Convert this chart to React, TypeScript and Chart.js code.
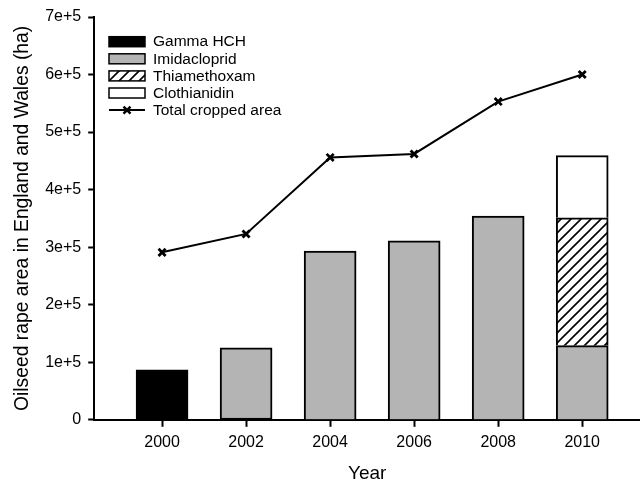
import React, { useEffect, useRef } from 'react';
import { Chart, registerables } from 'chart.js';

Chart.register(...registerables);

// ---- data ----
const years = [2000, 2002, 2004, 2006, 2008, 2010];
const xTickLabels = ['2000', '2002', '2004', '2006', '2008', '2010'];
const gammaHCH = [87000, 3000, null, null, null, null];
const imidacloprid = [null, 122000, 293000, 311000, 354000, 129000];
const thiamethoxam = [null, null, null, null, null, 222000];
const clothianidin = [null, null, null, null, null, 108000];
const totalCropped = [291000, 323000, 456000, 462000, 553000, 600000];
const yTickValues = [0, 100000, 200000, 300000, 400000, 500000, 600000, 700000];
const yTickLabels = ['0', '1e+5', '2e+5', '3e+5', '4e+5', '5e+5', '6e+5', '7e+5'];
const seriesNames = ['Gamma HCH', 'Imidacloprid', 'Thiamethoxam', 'Clothianidin', 'Total cropped area'];

const FONT = '"Liberation Sans", Arial, sans-serif';

function toPoints(values: (number | null)[]) {
  const pts: { x: number; y: number }[] = [];
  values.forEach((v, i) => {
    if (v !== null && v !== undefined) pts.push({ x: years[i], y: v });
  });
  return pts;
}

function makeHatch(): CanvasPattern | string {
  const s = 10;
  const c = document.createElement('canvas');
  c.width = s;
  c.height = s;
  const g = c.getContext('2d');
  if (!g) return '#ffffff';
  g.fillStyle = '#ffffff';
  g.fillRect(0, 0, s, s);
  g.strokeStyle = '#000000';
  g.lineWidth = 1.6;
  g.beginPath();
  g.moveTo(0, s);
  g.lineTo(s, 0);
  g.moveTo(-2, 2);
  g.lineTo(2, -2);
  g.moveTo(s - 2, s + 2);
  g.lineTo(s + 2, s - 2);
  g.stroke();
  const p = g.createPattern(c, 'repeat');
  return p || '#ffffff';
}

const legendPlugin = {
  id: 'insideLegend',
  afterDraw(chart: any) {
    const ctx = chart.ctx;
    const x0 = 109;
    const boxW = 36;
    const boxH = 10;
    const y0 = 41.7;
    const step = 17.1;
    ctx.save();
    ctx.font = `15.5px ${FONT}`;
    ctx.textBaseline = 'middle';
    ctx.textAlign = 'left';
    chart.data.datasets.forEach((ds: any, i: number) => {
      const cy = y0 + i * step;
      if (ds.type === 'line') {
        ctx.strokeStyle = '#000';
        ctx.lineWidth = 2;
        ctx.beginPath();
        ctx.moveTo(x0, cy);
        ctx.lineTo(x0 + boxW, cy);
        ctx.stroke();
        const cx = x0 + boxW / 2;
        const r = 3.5;
        ctx.lineWidth = 2.5;
        ctx.beginPath();
        ctx.moveTo(cx - r, cy - r);
        ctx.lineTo(cx + r, cy + r);
        ctx.moveTo(cx - r, cy + r);
        ctx.lineTo(cx + r, cy - r);
        ctx.stroke();
      } else {
        ctx.fillStyle = ds.backgroundColor;
        ctx.fillRect(x0, cy - boxH / 2, boxW, boxH);
        ctx.strokeStyle = '#000';
        ctx.lineWidth = 1.5;
        ctx.strokeRect(x0, cy - boxH / 2, boxW, boxH);
      }
      ctx.fillStyle = '#000';
      ctx.fillText(ds.label, x0 + boxW + 8, cy + 0.5);
    });
    ctx.restore();
  },
};

export default function App() {
  const ref = useRef<HTMLCanvasElement | null>(null);

  useEffect(() => {
    if (!ref.current) return;
    const hatch = makeHatch();
    const barCommon = {
      type: 'bar' as const,
      borderColor: '#000000',
      borderWidth: 2,
      borderSkipped: 'start',
      barThickness: 52,
      stack: 'bars',
    };
    const chart = new Chart(ref.current, {
      type: 'bar',
      data: {
        datasets: [
          { ...barCommon, label: seriesNames[0], data: toPoints(gammaHCH), backgroundColor: '#000000' },
          { ...barCommon, label: seriesNames[1], data: toPoints(imidacloprid), backgroundColor: '#b4b4b4' },
          { ...barCommon, label: seriesNames[2], data: toPoints(thiamethoxam), backgroundColor: hatch as any },
          { ...barCommon, label: seriesNames[3], data: toPoints(clothianidin), backgroundColor: '#ffffff' },
          {
            type: 'line' as const,
            label: seriesNames[4],
            data: toPoints(totalCropped),
            borderColor: '#000000',
            backgroundColor: '#000000',
            borderWidth: 2,
            pointStyle: 'crossRot',
            pointRadius: 5,
            pointBorderWidth: 2.8,
            pointBorderColor: '#000000',
            tension: 0,
            fill: false,
            stack: 'line',
          } as any,
        ],
      },
      options: {
        responsive: false,
        animation: false,
        devicePixelRatio: 1,
        layout: { padding: { top: 17, right: 0, left: 11, bottom: 0 } },
        plugins: {
          legend: { display: false },
          tooltip: { enabled: false },
        },
        scales: {
          x: {
            type: 'linear',
            stacked: true,
            offset: false,
            min: 1998.385,
            max: 2011.38,
            afterBuildTicks: (scale: any) => {
              scale.ticks = years.map((v) => ({ value: v }));
            },
            ticks: {
              color: '#000',
              font: { family: FONT, size: 16 },
              padding: 6,
              maxRotation: 0,
              autoSkip: false,
              callback: (_v: any, i: number) => xTickLabels[i],
            },
            grid: {
              offset: false,
              drawOnChartArea: false,
              drawTicks: true,
              tickLength: 7,
              tickWidth: 2,
              tickColor: '#000',
            },
            border: { display: true, color: '#000', width: 2 },
            title: {
              display: true,
              text: 'Year',
              color: '#000',
              font: { family: FONT, size: 19, lineHeight: 1 },
              padding: { top: 6, bottom: 0 },
            },
          },
          y: {
            type: 'linear',
            stacked: true,
            min: 0,
            max: 700000,
            afterBuildTicks: (scale: any) => {
              scale.ticks = yTickValues.map((v) => ({ value: v }));
            },
            ticks: {
              color: '#000',
              font: { family: FONT, size: 16 },
              padding: 7,
              callback: (_v: any, i: number) => yTickLabels[i],
            },
            grid: {
              drawOnChartArea: false,
              drawTicks: true,
              tickLength: 6,
              tickWidth: 2,
              tickColor: '#000',
            },
            border: { display: true, color: '#000', width: 2 },
            title: {
              display: true,
              text: 'Oilseed rape area in England and Wales (ha)',
              color: '#000',
              font: { family: FONT, size: 19.3, lineHeight: 1.2 },
              padding: { top: 0, bottom: 4 },
            },
          },
        },
      } as any,
      plugins: [legendPlugin],
    });
    return () => chart.destroy();
  }, []);

  return (
    <div
      style={{
        position: 'fixed',
        left: 0,
        top: 0,
        width: 640,
        height: 483,
        overflow: 'hidden',
        background: '#fff',
      }}
    >
      <canvas ref={ref} width={648} height={483} style={{ display: 'block' }} />
    </div>
  );
}
